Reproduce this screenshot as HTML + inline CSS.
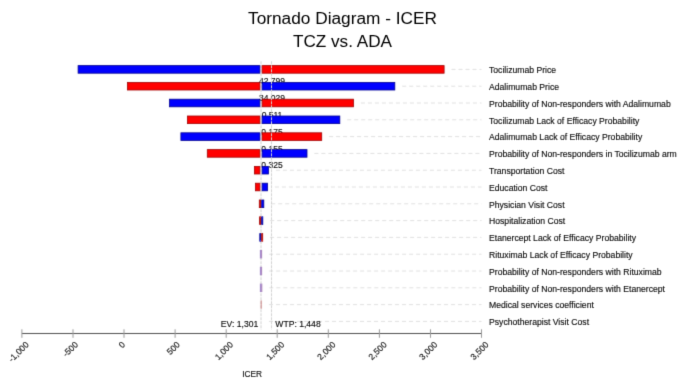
<!DOCTYPE html><html><head><meta charset="utf-8"><style>html,body{margin:0;padding:0;background:#fff;}svg{display:block;}text{font-family:"Liberation Sans",sans-serif;}</style></head><body>
<svg width="685" height="385" viewBox="0 0 685 385">
<defs>
<filter id="bl" color-interpolation-filters="sRGB" x="0" y="0" width="685" height="385" filterUnits="userSpaceOnUse"><feConvolveMatrix order="3" kernelMatrix="1 6 1 6 36 6 1 6 1" divisor="64" edgeMode="none" preserveAlpha="false"/></filter>
<filter id="tb" color-interpolation-filters="sRGB" x="0" y="0" width="685" height="385" filterUnits="userSpaceOnUse"><feConvolveMatrix order="3" kernelMatrix="0 1 0 1 6 1 0 1 0" divisor="10" edgeMode="none" preserveAlpha="false"/></filter>
</defs>
<rect width="685" height="385" fill="#fff"/>
<g filter="url(#bl)">
<line x1="451.5" y1="69.4" x2="481.5" y2="69.4" stroke="#e0e0e0" stroke-width="1" stroke-dasharray="4 3"/>
<line x1="402.2" y1="86.2" x2="481.5" y2="86.2" stroke="#e0e0e0" stroke-width="1" stroke-dasharray="4 3"/>
<line x1="360.9" y1="103.0" x2="481.5" y2="103.0" stroke="#e0e0e0" stroke-width="1" stroke-dasharray="4 3"/>
<line x1="347.2" y1="119.8" x2="481.5" y2="119.8" stroke="#e0e0e0" stroke-width="1" stroke-dasharray="4 3"/>
<line x1="329.1" y1="136.6" x2="481.5" y2="136.6" stroke="#e0e0e0" stroke-width="1" stroke-dasharray="4 3"/>
<line x1="314.4" y1="153.4" x2="481.5" y2="153.4" stroke="#e0e0e0" stroke-width="1" stroke-dasharray="4 3"/>
<line x1="275.9" y1="170.2" x2="481.5" y2="170.2" stroke="#e0e0e0" stroke-width="1" stroke-dasharray="4 3"/>
<line x1="274.9" y1="187.0" x2="481.5" y2="187.0" stroke="#e0e0e0" stroke-width="1" stroke-dasharray="4 3"/>
<line x1="271.2" y1="203.8" x2="481.5" y2="203.8" stroke="#e0e0e0" stroke-width="1" stroke-dasharray="4 3"/>
<line x1="270.2" y1="220.6" x2="481.5" y2="220.6" stroke="#e0e0e0" stroke-width="1" stroke-dasharray="4 3"/>
<line x1="270.1" y1="237.4" x2="481.5" y2="237.4" stroke="#e0e0e0" stroke-width="1" stroke-dasharray="4 3"/>
<line x1="269.1" y1="254.2" x2="481.5" y2="254.2" stroke="#e0e0e0" stroke-width="1" stroke-dasharray="4 3"/>
<line x1="269.1" y1="271.0" x2="481.5" y2="271.0" stroke="#e0e0e0" stroke-width="1" stroke-dasharray="4 3"/>
<line x1="269.3" y1="287.8" x2="481.5" y2="287.8" stroke="#e0e0e0" stroke-width="1" stroke-dasharray="4 3"/>
<line x1="269.0" y1="304.6" x2="481.5" y2="304.6" stroke="#e0e0e0" stroke-width="1" stroke-dasharray="4 3"/>
<line x1="269.0" y1="321.4" x2="481.5" y2="321.4" stroke="#e0e0e0" stroke-width="1" stroke-dasharray="4 3"/>
</g>
<g filter="url(#tb)">
<text x="272" y="84.4" font-size="8.5" text-anchor="middle" fill="#111" stroke="#111" stroke-width="0.15">42.799</text>
<text x="272" y="101.2" font-size="8.5" text-anchor="middle" fill="#111" stroke="#111" stroke-width="0.15">34.029</text>
<text x="272" y="118.0" font-size="8.5" text-anchor="middle" fill="#111" stroke="#111" stroke-width="0.15">0.511</text>
<text x="272" y="134.8" font-size="8.5" text-anchor="middle" fill="#111" stroke="#111" stroke-width="0.15">0.175</text>
<text x="272" y="151.6" font-size="8.5" text-anchor="middle" fill="#111" stroke="#111" stroke-width="0.15">0.155</text>
<text x="272" y="168.4" font-size="8.5" text-anchor="middle" fill="#111" stroke="#111" stroke-width="0.15">0.325</text>
<line x1="261.0" y1="61.3" x2="261.0" y2="329.7" stroke="#d2d2d2" stroke-width="1" stroke-dasharray="3 1"/>
</g>
<g filter="url(#bl)">
<rect x="78.10" y="65.60" width="181.80" height="7.60" fill="#0000ff" stroke="#000090" stroke-width="0.8"/>
<rect x="262.10" y="65.60" width="182.00" height="7.60" fill="#ff0000" stroke="#a00000" stroke-width="0.8"/>
<rect x="127.40" y="82.40" width="132.50" height="7.60" fill="#ff0000" stroke="#a00000" stroke-width="0.8"/>
<rect x="262.10" y="82.40" width="132.70" height="7.60" fill="#0000ff" stroke="#000090" stroke-width="0.8"/>
<rect x="169.50" y="99.20" width="90.40" height="7.60" fill="#0000ff" stroke="#000090" stroke-width="0.8"/>
<rect x="262.10" y="99.20" width="91.40" height="7.60" fill="#ff0000" stroke="#a00000" stroke-width="0.8"/>
<rect x="187.40" y="116.00" width="72.50" height="7.60" fill="#ff0000" stroke="#a00000" stroke-width="0.8"/>
<rect x="262.10" y="116.00" width="77.70" height="7.60" fill="#0000ff" stroke="#000090" stroke-width="0.8"/>
<rect x="180.90" y="132.80" width="79.00" height="7.60" fill="#0000ff" stroke="#000090" stroke-width="0.8"/>
<rect x="262.10" y="132.80" width="59.60" height="7.60" fill="#ff0000" stroke="#a00000" stroke-width="0.8"/>
<rect x="207.30" y="149.60" width="52.60" height="7.60" fill="#ff0000" stroke="#a00000" stroke-width="0.8"/>
<rect x="262.10" y="149.60" width="44.90" height="7.60" fill="#0000ff" stroke="#000090" stroke-width="0.8"/>
<rect x="254.40" y="166.40" width="5.50" height="7.60" fill="#ff0000" stroke="#a00000" stroke-width="0.8"/>
<rect x="262.10" y="166.40" width="6.40" height="7.60" fill="#0000ff" stroke="#000090" stroke-width="0.8"/>
<rect x="255.50" y="183.20" width="4.40" height="7.60" fill="#ff0000" stroke="#a00000" stroke-width="0.8"/>
<rect x="262.10" y="183.20" width="5.40" height="7.60" fill="#0000ff" stroke="#000090" stroke-width="0.8"/>
<rect x="259.30" y="200.00" width="1.35" height="7.60" fill="#ff0000" stroke="#a00000" stroke-width="0.8"/>
<rect x="261.65" y="200.00" width="2.15" height="7.60" fill="#0000ff" stroke="#000090" stroke-width="0.8"/>
<rect x="259.60" y="216.80" width="1.05" height="7.60" fill="#ff0000" stroke="#a00000" stroke-width="0.8"/>
<rect x="261.65" y="216.80" width="1.15" height="7.60" fill="#0000ff" stroke="#000090" stroke-width="0.8"/>
<rect x="259.80" y="233.60" width="0.85" height="7.60" fill="#0000ff" stroke="#000090" stroke-width="0.8"/>
<rect x="261.65" y="233.60" width="1.05" height="7.60" fill="#ff0000" stroke="#a00000" stroke-width="0.8"/>
<rect x="259.9" y="250.0" width="1.10" height="8.4" fill="#a488cc"/>
<rect x="261.00" y="250.0" width="1.10" height="8.4" fill="#ac88c0"/>
<rect x="259.9" y="266.8" width="1.10" height="8.4" fill="#a488cc"/>
<rect x="261.00" y="266.8" width="1.10" height="8.4" fill="#ac88c0"/>
<rect x="259.9" y="283.6" width="1.20" height="8.4" fill="#a488cc"/>
<rect x="261.10" y="283.6" width="1.20" height="8.4" fill="#ac88c0"/>
<rect x="260.7" y="300.4" width="0.50" height="8.4" fill="#c87878"/>
<rect x="261.20" y="300.4" width="0.50" height="8.4" fill="#c87878"/>
<line x1="271.5" y1="61.3" x2="271.5" y2="329.7" stroke="#d2d2d2" stroke-width="1" stroke-dasharray="3 1"/>
<line x1="21.9" y1="333.5" x2="481.5" y2="333.5" stroke="#505050" stroke-width="1.1"/>
<line x1="21.9" y1="329.3" x2="21.9" y2="337.8" stroke="#999" stroke-width="1"/>
<line x1="73.0" y1="329.3" x2="73.0" y2="337.8" stroke="#999" stroke-width="1"/>
<line x1="124.0" y1="329.3" x2="124.0" y2="337.8" stroke="#999" stroke-width="1"/>
<line x1="175.1" y1="329.3" x2="175.1" y2="337.8" stroke="#999" stroke-width="1"/>
<line x1="226.2" y1="329.3" x2="226.2" y2="337.8" stroke="#999" stroke-width="1"/>
<line x1="277.2" y1="329.3" x2="277.2" y2="337.8" stroke="#999" stroke-width="1"/>
<line x1="328.3" y1="329.3" x2="328.3" y2="337.8" stroke="#999" stroke-width="1"/>
<line x1="379.4" y1="329.3" x2="379.4" y2="337.8" stroke="#999" stroke-width="1"/>
<line x1="430.5" y1="329.3" x2="430.5" y2="337.8" stroke="#999" stroke-width="1"/>
<line x1="481.5" y1="329.3" x2="481.5" y2="337.8" stroke="#999" stroke-width="1"/>
</g>
<g filter="url(#tb)">
<text x="342.5" y="24.3" font-size="17.25" text-anchor="middle" fill="#000">Tornado Diagram - ICER</text>
<text x="342.5" y="47" font-size="17.15" text-anchor="middle" fill="#000">TCZ vs. ADA</text>
<text x="489" y="73.1" font-size="8.65" fill="#111" stroke="#111" stroke-width="0.15">Tocilizumab Price</text>
<text x="489" y="89.9" font-size="8.65" fill="#111" stroke="#111" stroke-width="0.15">Adalimumab Price</text>
<text x="489" y="106.7" font-size="8.65" fill="#111" stroke="#111" stroke-width="0.15">Probability of Non-responders with Adalimumab</text>
<text x="489" y="123.5" font-size="8.65" fill="#111" stroke="#111" stroke-width="0.15">Tocilizumab Lack of Efficacy Probability</text>
<text x="489" y="140.3" font-size="8.65" fill="#111" stroke="#111" stroke-width="0.15">Adalimumab Lack of Efficacy Probability</text>
<text x="489" y="157.1" font-size="8.65" fill="#111" stroke="#111" stroke-width="0.15">Probability of Non-responders in Tocilizumab arm</text>
<text x="489" y="173.9" font-size="8.65" fill="#111" stroke="#111" stroke-width="0.15">Transportation Cost</text>
<text x="489" y="190.7" font-size="8.65" fill="#111" stroke="#111" stroke-width="0.15">Education Cost</text>
<text x="489" y="207.5" font-size="8.65" fill="#111" stroke="#111" stroke-width="0.15">Physician Visit Cost</text>
<text x="489" y="224.3" font-size="8.65" fill="#111" stroke="#111" stroke-width="0.15">Hospitalization Cost</text>
<text x="489" y="241.1" font-size="8.65" fill="#111" stroke="#111" stroke-width="0.15">Etanercept Lack of Efficacy Probability</text>
<text x="489" y="257.9" font-size="8.65" fill="#111" stroke="#111" stroke-width="0.15">Rituximab Lack of Efficacy Probability</text>
<text x="489" y="274.7" font-size="8.65" fill="#111" stroke="#111" stroke-width="0.15">Probability of Non-responders with Rituximab</text>
<text x="489" y="291.5" font-size="8.65" fill="#111" stroke="#111" stroke-width="0.15">Probability of Non-responders with Etanercept</text>
<text x="489" y="308.3" font-size="8.65" fill="#111" stroke="#111" stroke-width="0.15">Medical services coefficient</text>
<text x="489" y="325.1" font-size="8.65" fill="#111" stroke="#111" stroke-width="0.15">Psychotherapist Visit Cost</text>
<text x="220.8" y="326.6" font-size="8.6" letter-spacing="0" fill="#111" stroke="#111" stroke-width="0.15">EV: 1,301</text>
<text x="275.3" y="326.6" font-size="8.6" letter-spacing="0" fill="#111" stroke="#111" stroke-width="0.15">WTP: 1,448</text>
<text transform="translate(29.30,345.20) rotate(-45)" font-size="8.6" text-anchor="end" fill="#111" stroke="#111" stroke-width="0.15">-1,000</text>
<text transform="translate(78.51,345.20) rotate(-45)" font-size="8.6" text-anchor="end" fill="#111" stroke="#111" stroke-width="0.15">-500</text>
<text transform="translate(125.72,345.20) rotate(-45)" font-size="8.6" text-anchor="end" fill="#111" stroke="#111" stroke-width="0.15">0</text>
<text transform="translate(180.43,345.20) rotate(-45)" font-size="8.6" text-anchor="end" fill="#111" stroke="#111" stroke-width="0.15">500</text>
<text transform="translate(233.64,345.20) rotate(-45)" font-size="8.6" text-anchor="end" fill="#111" stroke="#111" stroke-width="0.15">1,000</text>
<text transform="translate(284.85,345.20) rotate(-45)" font-size="8.6" text-anchor="end" fill="#111" stroke="#111" stroke-width="0.15">1,500</text>
<text transform="translate(336.06,345.20) rotate(-45)" font-size="8.6" text-anchor="end" fill="#111" stroke="#111" stroke-width="0.15">2,000</text>
<text transform="translate(387.27,345.20) rotate(-45)" font-size="8.6" text-anchor="end" fill="#111" stroke="#111" stroke-width="0.15">2,500</text>
<text transform="translate(437.98,345.20) rotate(-45)" font-size="8.6" text-anchor="end" fill="#111" stroke="#111" stroke-width="0.15">3,000</text>
<text transform="translate(489.19,345.20) rotate(-45)" font-size="8.6" text-anchor="end" fill="#111" stroke="#111" stroke-width="0.15">3,500</text>
<text x="242.2" y="377" font-size="8.3" fill="#111" stroke="#111" stroke-width="0.15">ICER</text>
</g>
</svg></body></html>
